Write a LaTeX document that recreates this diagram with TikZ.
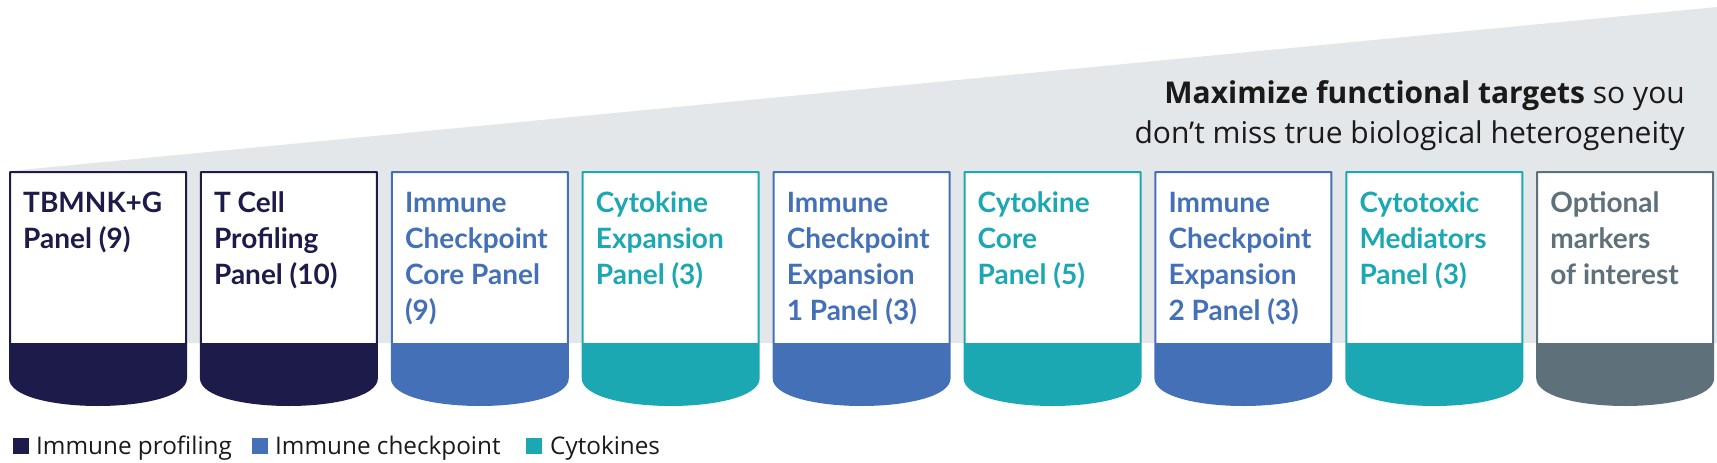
\documentclass[tikz,border=0pt]{standalone}
\usepackage{fontspec}
\setmainfont{Lato}
\newfontfamily\lightfont{Open Sans}
\definecolor{navy}{HTML}{1D1B4A}
\definecolor{cblue}{HTML}{4470B8}
\definecolor{cteal}{HTML}{1CA8B3}
\definecolor{cgray}{HTML}{5E717A}
\definecolor{wedgegray}{HTML}{E4E7EA}
\definecolor{inkblack}{HTML}{1A1A1A}
\newcommand\drawpanel[4]{%
  \pgfmathsetmacro\xa{10+190.9*#1}%
  \pgfmathsetmacro\xb{\xa+176}%
  \pgfmathsetmacro\xc{\xa+88}%
  \fill[white] (\xa,172) -- (\xb,172) -- (\xb,378) .. controls (\xb,396) and (\xb-45,405) .. (\xc,405) .. controls (\xa+45,405) and (\xa,396) .. (\xa,378) -- cycle;
  \fill[#2] (\xa,343) -- (\xb,343) -- (\xb,378) .. controls (\xb,396) and (\xb-45,405) .. (\xc,405) .. controls (\xa+45,405) and (\xa,396) .. (\xa,378) -- cycle;
  \draw[panelborder, #2] (\xa,172) -- (\xb,172) -- (\xb,378) .. controls (\xb,396) and (\xb-45,405) .. (\xc,405) .. controls (\xa+45,405) and (\xa,396) .. (\xa,378) -- cycle;
  \node[panellabel, text=#2] (#4) at (\xa+13,188) {\rule{0pt}{24pt}#3};
}
\begin{document}
\begin{tikzpicture}[x=1pt,y=-1pt,
  panelborder/.style={line width=2pt, line join=round},
  panellabel/.style={anchor=north west, inner sep=0pt, align=left, font=\fontsize{28}{36}\selectfont\bfseries},
  headtext/.style={anchor=base east, inner sep=0pt, text=inkblack, font=\lightfont\fontsize{30}{36}\selectfont},
  legsq/.style={minimum size=16pt, inner sep=0pt},
  legtext/.style={anchor=base west, inner sep=0pt, text=inkblack, font=\lightfont\fontsize{24.3}{30}\selectfont}]
\useasboundingbox (0,0) rectangle (1717,463);
\fill[wedgegray] (10,171) -- (1717,7) -- (1717,343) -- (10,343) -- cycle;
\node[headtext] (head1) at (1685,103) {\textbf{Maximize functional targets} so you};
\node[headtext] (head2) at (1685,143) {don’t miss true biological heterogeneity};
\drawpanel{0}{navy}{TBMNK+G\\Panel (9)}{p1}
\drawpanel{1}{navy}{T Cell\\Profiling\\Panel (10)}{p2}
\drawpanel{2}{cblue}{Immune\\Checkpoint\\Core Panel\\(9)}{p3}
\drawpanel{3}{cteal}{Cytokine\\Expansion\\Panel (3)}{p4}
\drawpanel{4}{cblue}{Immune\\Checkpoint\\Expansion\\1 Panel (3)}{p5}
\drawpanel{5}{cteal}{Cytokine\\Core\\Panel (5)}{p6}
\drawpanel{6}{cblue}{Immune\\Checkpoint\\Expansion\\2 Panel (3)}{p7}
\drawpanel{7}{cteal}{Cytotoxic\\Mediators\\Panel (3)}{p8}
\drawpanel{8}{cgray}{Optional\\markers\\of interest}{p9}
\node[legsq, fill=navy] (sq1) at (20.5,446) {};
\node[legtext] (lg1) at (36,454) {Immune profiling};
\node[legsq, fill=cblue] (sq2) at (259.5,446) {};
\node[legtext] (lg2) at (275,454) {Immune checkpoint};
\node[legsq, fill=cteal] (sq3) at (534,446) {};
\node[legtext] (lg3) at (550,454) {Cytokines};
\end{tikzpicture}
\end{document}
